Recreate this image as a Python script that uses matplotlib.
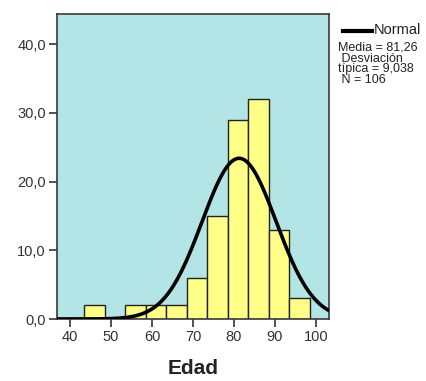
import numpy as np
import matplotlib.pyplot as plt

# histogram of Edad (SPSS style)
bin_edges = [43.5, 48.5, 53.5, 58.5, 63.5, 68.5, 73.5, 78.5, 83.5, 88.5, 93.5, 98.5]
counts = [2, 0, 2, 2, 2, 6, 15, 29, 32, 13, 3]
media = 81.26
desv = 9.038
n = 106

x_ticks = [40, 50, 60, 70, 80, 90, 100]
y_ticks = [0, 10, 20, 30, 40]

plt.rcParams['font.family'] = ['Liberation Sans', 'DejaVu Sans']

fig = plt.figure(figsize=(4.27, 3.81), dpi=100)
ax = fig.add_axes([0.1335, 0.1627, 0.637, 0.8006])
ax.set_facecolor('#b3e5e6')

left = np.array(bin_edges[:-1])
width = np.diff(bin_edges)
ax.bar(left, counts, width=width, align='edge', color='#ffff88',
       edgecolor='#222222', linewidth=1.0, zorder=2)

# normal curve scaled to counts
bw = width[0]
xs = np.linspace(30, 110, 400)
ys = n * bw / (desv * np.sqrt(2 * np.pi)) * np.exp(-0.5 * ((xs - media) / desv) ** 2)
ax.plot(xs, ys, color='black', linewidth=2.6, zorder=3, solid_capstyle='round')

ax.set_xlim(36.8, 103.2)
ax.set_ylim(0, 44.4)
ax.set_xticks(x_ticks)
ax.set_xticklabels([str(t) for t in x_ticks])
ax.set_yticks(y_ticks)
ax.set_yticklabels([f'{t:.1f}'.replace('.', ',') for t in y_ticks])
ax.tick_params(direction='out', length=6, width=1.2, colors='#333333',
               labelsize=10.5, pad=2)

for s in ax.spines.values():
    s.set_color('#3a3a3a')
    s.set_linewidth(1.2)

ax.set_xlabel('Edad', fontsize=15, fontweight='bold', color='#222222', labelpad=11)

# legend box on the right
fig.lines.append(plt.Line2D([343 / 427, 372 / 427], [1 - 30.5 / 381, 1 - 30.5 / 381],
                            color='black', linewidth=3, transform=fig.transFigure))
fig.text(374 / 427, 1 - 30 / 381, 'Normal', fontsize=10.5, color='#222222', va='center')
info = (f'Media = {media:.2f}'.replace('.', ',') + '\n Desviación\n'
        + f'típica = {desv:.3f}'.replace('.', ',') + f'\n N = {n}')
fig.text(338 / 427, 1 - 42 / 381, info, fontsize=9, color='#222222', va='top',
         linespacing=0.86)

fig.savefig('out.png', dpi=100)
